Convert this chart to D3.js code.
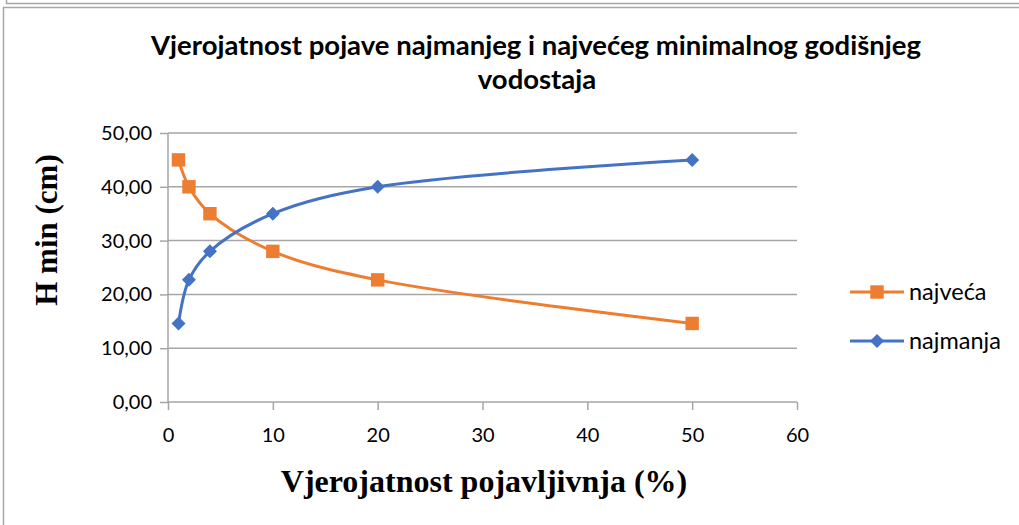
<!DOCTYPE html>
<meta charset="utf-8">
<script src="https://d3js.org/d3.v7.min.js"></script>
<style>
  body { margin: 0; background: #fff; }
  .tick text { font-family: Lato, "Noto Sans", sans-serif; font-size: 20px; fill: #000; }
</style>
<body>
<div id="chart"></div>
<script>
// data
var probability = [1, 2, 4, 10, 20, 50];
var najveca = [45.0, 40.0, 35.0, 28.0, 22.7, 14.6];
var najmanja = [14.6, 22.7, 28.0, 35.0, 40.0, 45.0];
var seriesNames = ["najveća", "najmanja"];
var xTicks = [0, 10, 20, 30, 40, 50, 60];
var yTicks = [0, 10, 20, 30, 40, 50];

var W = 1019, H = 525;
var margin = {top: 133, left: 168, right: 1019 - 797, bottom: 525 - 402};
var width = W - margin.left - margin.right,
    height = H - margin.top - margin.bottom;

var svg = d3.select("#chart").append("svg")
    .attr("width", W)
    .attr("height", H);

// outer frames
svg.append("path").attr("d", "M6.5,0 V3.5 H1019").attr("fill", "none").attr("stroke", "#a6a6a6").attr("stroke-width", 1.5);
svg.append("path").attr("d", "M3.5,525 V7.5 H1019").attr("fill", "none").attr("stroke", "#a6a6a6").attr("stroke-width", 1.5);

var g = svg.append("g").attr("transform", "translate(" + margin.left + "," + margin.top + ")");

var x = d3.scaleLinear().domain([0, 60]).range([0, width]);
var y = d3.scaleLinear().domain([0, 50]).range([height, 0]);

// y axis with gridlines
var yAxis = g.append("g")
    .call(d3.axisLeft(y).tickValues(yTicks).tickSize(8).tickPadding(8)
      .tickFormat(function(d) { return d3.format(".2f")(d).replace(".", ","); }));
yAxis.selectAll("line").attr("stroke", "#a6a6a6").attr("stroke-width", 1.5);
yAxis.select(".domain").attr("stroke", "#a6a6a6").attr("stroke-width", 1.5).attr("d", "M0,0 V" + height);

g.append("g").selectAll("line.grid")
  .data(yTicks.filter(function(d) { return d > 0; }))
  .join("line")
    .attr("x1", 0).attr("x2", width)
    .attr("y1", function(d) { return y(d); }).attr("y2", function(d) { return y(d); })
    .attr("stroke", "#a6a6a6").attr("stroke-width", 1.5);

// x axis
var xAxis = g.append("g")
    .attr("transform", "translate(0," + height + ")")
    .call(d3.axisBottom(x).tickValues(xTicks).tickSize(8).tickPadding(18));
xAxis.selectAll("line").attr("stroke", "#a6a6a6").attr("stroke-width", 1.5);
xAxis.select(".domain").attr("stroke", "#a6a6a6").attr("stroke-width", 1.5).attr("d", "M0,0 H" + width);

// series
var colors = ["#ED7D31", "#4472C4"];
var allSeries = [najveca, najmanja];

var line = d3.line()
    .x(function(d, i) { return x(probability[i]); })
    .y(function(d) { return y(d); })
    .curve(d3.curveCatmullRom.alpha(0.5));

allSeries.forEach(function(vals, s) {
  g.append("path")
    .datum(vals)
    .attr("fill", "none")
    .attr("stroke", colors[s])
    .attr("stroke-width", 3)
    .attr("d", line);
});

var square = d3.symbol().type(d3.symbolSquare).size(180);
var diamond = "M0,-7 L7,0 L0,7 L-7,0 Z";

g.selectAll(".pt0").data(najveca).join("path")
    .attr("transform", function(d, i) { return "translate(" + x(probability[i]) + "," + y(d) + ")"; })
    .attr("d", square()).attr("fill", colors[0]);
g.selectAll(".pt1").data(najmanja).join("path")
    .attr("transform", function(d, i) { return "translate(" + x(probability[i]) + "," + y(d) + ")"; })
    .attr("d", diamond).attr("fill", colors[1]);

// legend
var legend = svg.append("g");
seriesNames.forEach(function(name, s) {
  var ly = 292 + s * 49;
  legend.append("line")
    .attr("x1", 850).attr("x2", 904).attr("y1", ly).attr("y2", ly)
    .attr("stroke", colors[s]).attr("stroke-width", 3);
  legend.append("path")
    .attr("transform", "translate(877," + ly + ")")
    .attr("d", s == 0 ? square() : diamond)
    .attr("fill", colors[s]);
  legend.append("text")
    .attr("x", 909).attr("y", ly + 8)
    .style("font-family", "Lato, 'Noto Sans', sans-serif")
    .style("font-size", "23.5px")
    .text(name);
});

// title
svg.append("text")
    .attr("x", 536).attr("y", 55)
    .attr("text-anchor", "middle")
    .style("font-family", "Lato, 'Noto Sans', sans-serif")
    .style("font-weight", "bold")
    .style("font-size", "27.5px")
    .text("Vjerojatnost pojave najmanjeg i najvećeg minimalnog godišnjeg");
svg.append("text")
    .attr("x", 537).attr("y", 89)
    .attr("text-anchor", "middle")
    .style("font-family", "Lato, 'Noto Sans', sans-serif")
    .style("font-weight", "bold")
    .style("font-size", "27.5px")
    .text("vodostaja");

// axis titles
svg.append("text")
    .attr("x", 484).attr("y", 492)
    .attr("text-anchor", "middle")
    .style("font-family", "'Liberation Serif', serif")
    .style("font-weight", "bold")
    .style("font-size", "32px")
    .text("Vjerojatnost pojavljivnja (%)");

svg.append("text")
    .attr("transform", "translate(57,230) rotate(-90)")
    .attr("text-anchor", "middle")
    .style("font-family", "'Liberation Serif', serif")
    .style("font-weight", "bold")
    .style("font-size", "31px")
    .text("H min (cm)");
</script>
</body>
